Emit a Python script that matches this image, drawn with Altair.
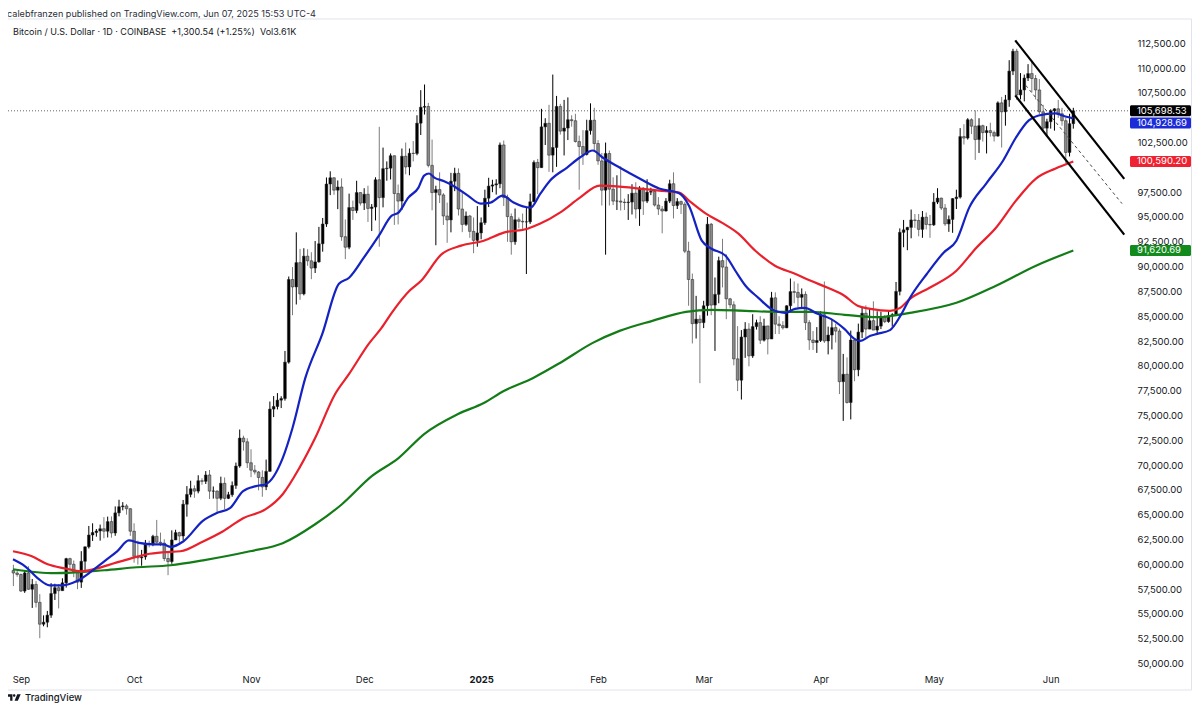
import altair as alt
import pandas as pd

FONT = "Inter"
INK = "#131722"

# ---------------- data (prices in USD thousands) ----------------
# day index counted from 2024-09-01 (= day 0); first candle is 2024-08-30
first_day = -2

open_k = [
    59.37, 59.12,
    58.97, 57.30, 59.13, 57.48, 57.97, 56.16, 53.96, 54.16, 54.87, 57.05, 57.64, 57.34, 58.13, 60.57, 60.00,
    59.19, 58.20, 60.30, 61.76, 62.95, 63.20, 63.35, 63.58, 63.33, 64.30, 63.15, 65.18, 65.80, 65.88, 65.60,
    63.33, 60.80, 60.65, 60.75, 62.08, 62.06, 62.82, 62.22, 62.13, 60.58, 60.27, 62.45, 63.19, 62.85, 66.05, 67.04,
    67.61, 67.37, 68.42, 68.36, 69.00, 67.37, 67.38, 66.65, 68.16, 66.64, 67.01, 67.94, 69.90, 72.72, 72.34,
    70.23, 69.48, 69.30, 68.75, 67.80, 69.36, 75.64, 75.90, 76.54, 76.70, 80.37, 88.70, 87.95, 90.40, 87.25,
    91.05, 90.58, 89.85, 90.47, 92.30, 94.29, 98.32, 98.95, 97.70, 98.02, 93.01, 91.95, 95.95, 95.65, 97.46,
    96.40, 97.29, 95.86, 96.00, 98.75, 96.95, 99.87, 99.92, 101.17, 97.36, 96.60, 101.12, 100.04, 101.42, 101.40, 104.45,
    106.06, 106.14, 100.20, 97.46, 97.76, 97.22, 95.10, 94.70, 98.60, 99.40, 95.80, 94.25, 95.10, 93.55, 92.64,
    93.39, 94.42, 96.89, 98.11, 98.23, 98.34, 102.26, 96.95, 95.04, 92.50, 94.72, 94.56, 94.50, 94.51, 96.53, 100.50,
    99.97, 104.08, 104.44, 101.23, 102.00, 106.14, 103.65, 103.96, 104.80, 104.70, 102.60, 102.10, 101.30, 103.70, 104.75,
    102.40, 100.65, 97.70, 101.40, 97.80, 96.60, 96.60, 96.50, 96.45, 96.50, 97.40, 95.80, 97.90, 96.60,
    97.50, 97.58, 96.20, 95.80, 95.60, 96.60, 98.35, 96.15, 96.55, 96.28, 91.55, 88.70, 84.25, 84.70,
    84.35, 86.05, 94.27, 86.12, 87.20, 90.60, 89.95, 86.75, 86.15, 80.70, 78.55, 82.90, 83.70, 81.00, 83.95, 84.35,
    82.58, 84.02, 82.70, 86.85, 84.20, 84.05, 83.83, 86.05, 87.48, 87.40, 86.90, 87.20, 84.35, 82.60, 82.35,
    82.55, 85.15, 82.50, 83.10, 83.85, 83.50, 78.40, 79.15, 76.30, 82.60, 79.60, 83.40, 85.30, 83.70, 84.55,
    83.60, 84.00, 84.90, 84.45, 85.05, 85.15, 87.50, 93.45, 93.70, 93.95, 94.70, 94.65, 93.75, 94.98, 94.25,
    94.20, 96.50, 96.90, 95.90, 94.30, 94.75, 96.85, 97.00, 103.10, 102.95, 104.80, 104.15, 102.80, 104.20, 103.50, 103.70,
    103.50, 103.15, 106.50, 105.60, 106.80, 109.70, 111.70, 107.30, 107.80, 109.00, 109.45, 108.95, 107.80, 105.60, 103.95,
    104.60, 105.70, 105.90, 105.40, 104.70, 101.50, 104.40,
]
high_k = [
    59.95, 59.45,
    59.07, 59.40, 59.80, 58.52, 58.30, 56.99, 54.85, 55.30, 58.10, 58.04, 57.99, 58.59, 60.65, 60.66, 60.38,
    59.21, 61.32, 61.78, 63.86, 64.13, 63.55, 64.00, 64.75, 64.80, 64.82, 65.83, 66.50, 66.26, 66.08, 65.65,
    64.13, 62.38, 61.45, 62.45, 62.38, 62.97, 64.47, 63.19, 62.52, 61.32, 63.42, 63.48, 63.28, 66.48, 67.88, 68.42,
    67.95, 68.97, 68.67, 69.39, 69.50, 67.84, 67.44, 68.83, 68.75, 67.30, 68.34, 70.25, 73.58, 72.96, 72.70,
    71.59, 70.00, 69.40, 69.47, 70.55, 76.40, 76.95, 77.25, 76.93, 81.50, 89.00, 89.95, 93.45, 91.78, 91.85,
    91.75, 91.45, 92.58, 94.00, 94.90, 98.98, 99.60, 98.99, 98.68, 98.89, 94.75, 97.35, 96.65, 98.65, 97.47,
    97.90, 98.15, 96.30, 99.00, 104.09, 101.99, 100.60, 101.40, 101.20, 98.27, 101.90, 102.50, 101.90, 102.65, 105.25, 107.78,
    108.35, 106.50, 102.80, 98.15, 99.50, 97.40, 96.45, 99.45, 99.96, 99.90, 97.55, 95.55, 95.20, 94.95, 96.10,
    94.95, 97.75, 98.95, 98.75, 98.80, 102.50, 102.70, 97.25, 95.35, 95.85, 94.95, 95.35, 95.90, 97.35, 100.70, 100.85,
    105.90, 104.95, 106.30, 109.35, 107.20, 106.40, 106.80, 107.05, 105.25, 105.40, 103.20, 103.75, 104.80, 106.45, 106.00,
    102.75, 101.45, 102.50, 101.70, 99.00, 99.20, 100.10, 96.85, 97.30, 98.30, 98.50, 98.10, 98.00, 98.80,
    97.95, 97.70, 97.00, 96.10, 96.90, 98.75, 99.50, 96.90, 96.65, 96.50, 92.50, 89.30, 87.05, 85.10,
    86.55, 95.00, 94.40, 88.90, 91.00, 92.80, 91.25, 86.85, 86.50, 84.00, 83.60, 84.40, 84.30, 85.20, 84.65, 85.00,
    84.75, 84.02, 87.45, 87.40, 85.00, 84.50, 86.10, 88.80, 88.50, 88.30, 87.80, 87.50, 84.60, 83.50, 83.90,
    85.50, 88.50, 83.95, 84.70, 84.25, 83.75, 81.20, 80.85, 83.55, 82.70, 84.25, 85.90, 86.10, 85.80, 86.50,
    85.50, 85.45, 85.10, 85.60, 85.30, 88.45, 93.85, 94.70, 94.00, 95.75, 95.30, 95.30, 95.60, 95.45, 95.20,
    97.40, 97.90, 96.95, 96.30, 95.15, 96.90, 97.75, 103.95, 104.35, 104.95, 104.95, 105.75, 104.95, 104.30, 104.15, 104.50,
    103.70, 106.65, 107.10, 107.30, 110.80, 111.95, 111.95, 109.50, 109.35, 110.40, 110.75, 109.30, 108.90, 106.30, 104.90,
    105.85, 105.95, 106.80, 106.00, 105.00, 105.40, 106.00,
]
low_k = [
    57.80, 58.75,
    57.20, 57.12, 57.42, 55.60, 55.65, 52.55, 53.75, 53.65, 54.60, 56.40, 55.55, 57.33, 57.65, 59.45, 58.70,
    57.49, 57.62, 59.19, 61.59, 62.35, 62.78, 62.38, 62.62, 62.70, 62.68, 62.87, 64.83, 65.43, 65.00, 62.86,
    60.16, 59.97, 59.85, 60.46, 61.70, 61.82, 62.12, 61.83, 60.32, 58.90, 60.05, 62.45, 62.04, 62.45, 64.80, 66.75,
    66.70, 67.15, 68.02, 68.09, 66.58, 66.62, 65.27, 66.46, 65.54, 66.57, 66.80, 67.60, 69.73, 71.45, 69.70,
    68.78, 69.05, 67.45, 66.80, 67.47, 69.35, 74.83, 75.60, 75.74, 76.49, 80.22, 85.10, 86.18, 86.65, 87.10,
    90.08, 88.73, 89.35, 90.40, 91.50, 94.00, 97.20, 97.23, 95.79, 92.60, 90.75, 91.75, 94.70, 95.38, 96.15,
    95.70, 94.50, 93.58, 94.65, 92.00, 95.97, 98.65, 98.78, 94.20, 94.25, 95.70, 99.30, 99.20, 100.60, 101.22, 103.26,
    105.32, 100.00, 95.67, 92.15, 96.40, 94.20, 92.40, 93.45, 97.60, 95.15, 93.47, 94.10, 92.90, 91.35, 92.00,
    92.75, 94.20, 96.00, 97.50, 97.25, 97.90, 96.10, 92.50, 91.20, 92.20, 93.85, 93.70, 89.25, 94.30, 96.50, 97.30,
    99.95, 102.25, 99.55, 99.50, 100.05, 103.30, 101.20, 102.75, 104.10, 102.50, 97.75, 100.25, 101.20, 103.30, 101.55,
    100.25, 96.15, 91.20, 96.15, 96.20, 95.70, 95.65, 95.70, 94.70, 95.25, 94.85, 94.10, 95.20, 96.40,
    97.20, 96.05, 95.20, 93.35, 95.55, 96.40, 94.85, 95.80, 95.30, 91.35, 86.05, 82.25, 82.75, 78.25,
    83.80, 85.05, 85.10, 81.50, 86.30, 87.90, 84.70, 85.80, 80.05, 77.45, 76.60, 80.80, 79.95, 80.80, 83.65, 82.20,
    82.45, 81.15, 82.70, 83.20, 83.20, 83.65, 83.80, 85.55, 86.30, 85.85, 85.85, 83.60, 81.60, 81.60, 81.30,
    82.40, 82.30, 81.15, 81.65, 82.35, 77.15, 74.45, 76.20, 74.60, 78.45, 78.95, 82.80, 82.85, 83.70, 83.60,
    83.10, 83.70, 84.30, 84.35, 83.95, 85.10, 87.10, 91.95, 91.65, 92.85, 93.90, 93.05, 92.90, 93.75, 92.90,
    94.10, 96.30, 95.70, 94.10, 93.50, 93.40, 95.80, 96.85, 102.30, 102.80, 103.35, 100.75, 101.45, 102.60, 101.40, 103.10,
    102.60, 103.10, 102.00, 104.20, 106.10, 109.30, 106.80, 106.85, 106.65, 108.70, 107.55, 106.85, 105.35, 103.70, 103.10,
    103.90, 103.70, 105.00, 104.20, 100.40, 101.10, 103.90,
]
close_k = [
    59.12, 58.97,
    57.30, 59.13, 57.48, 57.97, 56.16, 53.96, 54.16, 54.87, 57.05, 57.64, 57.34, 58.13, 60.57, 60.00, 59.19,
    58.20, 60.30, 61.76, 62.95, 63.20, 63.35, 63.58, 63.33, 64.30, 63.15, 65.18, 65.80, 65.88, 65.60, 63.33,
    60.80, 60.65, 60.75, 62.08, 62.06, 62.82, 62.22, 62.13, 60.58, 60.27, 62.45, 63.19, 62.85, 66.05, 67.04, 67.61,
    67.37, 68.42, 68.36, 69.00, 67.37, 67.38, 66.65, 68.16, 66.64, 67.01, 67.94, 69.90, 72.72, 72.34, 70.23,
    69.48, 69.30, 68.75, 67.80, 69.36, 75.64, 75.90, 76.54, 76.70, 80.37, 88.70, 87.95, 90.40, 87.25, 91.05,
    90.58, 89.85, 90.47, 92.30, 94.29, 98.32, 98.95, 97.70, 98.02, 93.01, 91.95, 95.95, 95.65, 97.46, 96.40,
    97.29, 95.86, 96.00, 98.75, 96.95, 99.87, 99.92, 101.17, 97.36, 96.60, 101.12, 100.04, 101.42, 101.40, 104.45, 106.06,
    106.14, 100.20, 97.46, 97.76, 97.22, 95.10, 94.70, 98.60, 99.40, 95.80, 94.25, 95.10, 93.55, 92.64, 93.39,
    94.42, 96.89, 98.11, 98.23, 98.34, 102.26, 96.95, 95.04, 92.50, 94.72, 94.56, 94.50, 94.51, 96.53, 100.50, 99.97,
    104.08, 104.44, 101.23, 102.00, 106.14, 103.65, 103.96, 104.80, 104.70, 102.60, 102.10, 101.30, 103.70, 104.75, 102.40,
    100.65, 97.70, 101.40, 97.80, 96.60, 96.60, 96.50, 96.45, 96.50, 97.40, 95.80, 97.90, 96.60, 97.50,
    97.58, 96.20, 95.80, 95.60, 96.60, 98.35, 96.15, 96.55, 96.28, 91.55, 88.70, 84.25, 84.70, 84.35,
    86.05, 94.27, 86.12, 87.20, 90.60, 89.95, 86.75, 86.15, 80.70, 78.55, 82.90, 83.70, 81.00, 83.95, 84.35, 82.58,
    84.02, 82.70, 86.85, 84.20, 84.05, 83.83, 86.05, 87.48, 87.40, 86.90, 87.20, 84.35, 82.60, 82.35, 82.55,
    85.15, 82.50, 83.10, 83.85, 83.50, 78.40, 79.15, 76.30, 82.60, 79.60, 83.40, 85.30, 83.70, 84.55, 83.60,
    84.00, 84.90, 84.45, 85.05, 85.15, 87.50, 93.45, 93.70, 93.95, 94.70, 94.65, 93.75, 94.98, 94.25, 94.20,
    96.50, 96.90, 95.90, 94.30, 94.75, 96.85, 97.00, 103.10, 102.95, 104.80, 104.15, 102.80, 104.20, 103.50, 103.70, 103.50,
    103.15, 106.50, 105.60, 106.80, 109.70, 111.70, 107.30, 107.80, 109.00, 109.45, 108.95, 107.80, 105.60, 103.95, 104.60,
    105.70, 105.90, 105.40, 104.70, 101.50, 104.40, 105.70,
]

# moving averages (day index, USD thousands)
blue_day = [-2.1, 1.1, 4.5, 7.6, 11.0, 14.7, 18.7, 22.1, 25.5, 28.6, 31.3, 35.2, 37.8, 39.7, 43.1, 48.3, 51.8,
            55.4, 58.9, 62.3, 64.9, 69.4, 72.0, 75.4, 79.9, 84.3, 87.0, 90.9, 94.9, 98.3, 100.1, 102.7, 105.4,
            106.9, 108.2, 109.6, 112.2, 114.8, 118.5, 121.9, 124.5, 127.7, 130.6, 135.1, 137.7, 140.3, 144.8,
            148.2, 151.6, 154.2, 158.7, 164.0, 169.2, 174.5, 177.1, 180.5, 183.1, 186.8, 189.4, 192.1, 195.5,
            198.9, 202.6, 205.2, 207.8, 211.2, 214.7, 218.3, 221.0, 222.5, 225.2, 227.0, 230.4, 233.1, 235.7,
            240.2, 244.6, 248.0, 251.4, 255.9, 260.4, 263.8, 267.2, 269.8, 274.3, 276.9, 279.0]
blue_k = [60.50, 59.80, 58.58, 57.88, 57.88, 58.28, 59.29, 60.30, 61.30, 62.40, 62.15, 62.00, 62.00, 61.75, 62.32,
          64.40, 65.15, 65.65, 67.37, 67.87, 68.07, 70.70, 73.73, 78.78, 83.22, 88.27, 88.88, 90.90, 93.11, 95.13,
          95.44, 96.95, 97.96, 99.17, 99.38, 98.97, 98.60, 98.10, 97.15, 96.35, 96.45, 97.15, 96.45, 95.94, 97.35,
          98.67, 99.98, 100.99, 101.70, 100.99, 99.98, 98.87, 97.86, 97.40, 96.14, 92.61, 91.80, 91.10, 89.58,
          88.07, 86.85, 85.74, 85.34, 85.74, 85.84, 85.24, 84.73, 83.72, 82.71, 82.51, 83.02, 83.22, 83.60, 85.00,
          86.85, 89.28, 91.40, 92.61, 95.94, 98.37, 100.69, 103.01, 104.73, 105.23, 105.43, 105.13, 104.93]
red_day = [-2.1, 2.9, 7.1, 11.6, 16.0, 20.2, 24.7, 29.2, 33.4, 37.8, 42.3, 48.3, 53.6, 58.9, 64.9, 69.4, 73.8,
           78.0, 83.3, 87.0, 92.2, 95.6, 98.3, 103.0, 106.1, 111.4, 116.7, 122.7, 128.0, 134.3, 137.7, 142.9,
           148.2, 153.4, 158.7, 164.0, 169.2, 174.5, 177.1, 181.6, 185.8, 190.2, 194.7, 199.9, 205.2, 209.4,
           213.9, 218.3, 221.8, 225.2, 230.4, 233.1, 235.7, 240.9, 248.0, 253.3, 258.5, 263.8, 269.1, 274.3, 279.0]
red_k = [61.31, 60.80, 60.00, 59.59, 59.29, 59.59, 60.10, 60.60, 61.01, 61.21, 61.31, 62.30, 63.33, 64.64, 65.55,
         67.06, 69.69, 72.72, 77.16, 79.18, 82.21, 83.82, 85.34, 87.56, 88.57, 91.20, 92.11, 92.61, 93.42, 93.82,
         94.33, 95.44, 96.95, 98.16, 98.06, 97.86, 97.66, 97.46, 96.65, 95.34, 94.43, 93.32, 91.60, 90.09, 89.28,
         88.57, 87.86, 87.06, 86.05, 85.74, 85.54, 85.84, 86.75, 87.86, 89.58, 91.90, 93.92, 96.65, 98.87, 99.88,
         100.59]
green_day = [-2.1, 8.9, 22.1, 30.7, 39.7, 48.3, 60.7, 69.4, 78.0, 85.1, 93.0, 100.1, 106.9, 115.9, 122.7, 128.0,
             135.8, 142.9, 151.6, 158.7, 167.4, 176.3, 183.1, 192.1, 200.7, 209.4, 218.3, 227.0, 235.7, 248.0,
             258.5, 269.1, 279.0]
green_k = [59.50, 59.10, 59.40, 59.70, 59.90, 60.40, 61.31, 62.12, 64.03, 66.05, 68.88, 70.70, 73.12, 75.14, 76.25,
           77.46, 78.78, 80.29, 82.31, 83.52, 84.53, 85.44, 85.64, 85.54, 85.44, 85.44, 85.14, 84.90, 85.34, 86.35,
           88.07, 90.09, 91.62]

# drawn descending channel (day index, USD thousands)
chan_day = [263.6, 292.5]
chan_upper_k = [112.80, 98.84]
chan_lower_k = [107.25, 93.22]
mid_day = [266.4, 291.9]
mid_k = [108.26, 96.35]

last_price = 105698.53
badge_values = [105698.53, 104928.69, 100590.20, 91620.69]
badge_labels = ["105,698.53", "104,928.69", "100,590.20", "91,620.69"]

month_days = [0, 30, 61, 91, 122, 153, 181, 212, 242, 273]
month_labels = ["Sep", "Oct", "Nov", "Dec", "2025", "Feb", "Mar", "Apr", "May", "Jun"]
# price scale labels that are visible (100,000 and 105,000 sit under the value badges)
price_ticks = [50000, 52500, 55000, 57500, 60000, 62500, 65000, 67500, 70000, 72500, 75000, 77500, 80000,
               82500, 85000, 87500, 90000, 92500, 95000, 97500, 102500, 107500, 110000, 112500]

header_1 = "calebfranzen published on TradingView.com, Jun 07, 2025 15:53 UTC-4"
header_2 = "Bitcoin / U.S. Dollar \u00b7 1D \u00b7 COINBASE\u00a0\u00a0+1,300.54 (+1.25%)\u00a0\u00a0Vol3.61K"
brand = "TradingView"

assert len(open_k) == len(high_k) == len(low_k) == len(close_k)
assert len(blue_day) == len(blue_k) and len(red_day) == len(red_k) and len(green_day) == len(green_k)

# ---------------- chart ----------------
W, H = 1120, 646
x_scale = alt.Scale(domain=[-2.102, 292.17], nice=False, zero=False)
y_scale = alt.Scale(domain=[49546.5, 114648.0], nice=False, zero=False)

label_expr = "".join(f"datum.value == {d} ? '{l}' : " for d, l in zip(month_days, month_labels)) + "''"
x_axis = alt.Axis(values=month_days, labelExpr=label_expr, title=None, ticks=False, domain=False, grid=False,
                  labelPadding=6, labelFont=FONT, labelFontSize=9.5, labelColor=INK, labelFlush=False,
                  labelOverlap=False,
                  labelFontWeight={"condition": {"test": "datum.value == 122", "value": "bold"}, "value": "normal"})
y_axis = alt.Axis(orient="right", values=price_ticks, format=",.2f", title=None, ticks=False, domain=False,
                  grid=False, labelPadding=9, labelAlign="left", labelBaseline="middle", labelOverlap=False,
                  labelFont=FONT, labelFontSize=9.5, labelColor=INK)

X = lambda f="day": alt.X(f"{f}:Q", scale=x_scale, axis=x_axis)
Y = lambda f: alt.Y(f"{f}:Q", scale=y_scale, axis=y_axis)

days = list(range(first_day, first_day + len(close_k)))
candles = pd.DataFrame({
    "day": days,
    "open": [v * 1000 for v in open_k],
    "high": [v * 1000 for v in high_k],
    "low": [v * 1000 for v in low_k],
    "close": [v * 1000 for v in close_k],
})
up = alt.datum.close >= alt.datum.open

wicks = alt.Chart(candles).mark_rule(strokeWidth=1).encode(
    x=X(), y=Y("low"), y2="high:Q",
    color=alt.condition(up, alt.value("#000000"), alt.value("#7c7c7c")))
bodies = alt.Chart(candles).mark_bar(size=2.7, stroke="#222222", strokeWidth=0.5).encode(
    x=X(), y=Y("open"), y2="close:Q",
    color=alt.condition(up, alt.value("#000000"), alt.value("#8a8a8a")))


def ma_layer(dd, vv, color):
    df = pd.DataFrame({"day": dd, "v": [v * 1000 for v in vv]})
    return alt.Chart(df).mark_line(color=color, strokeWidth=2.2, interpolate="monotone").encode(x=X(), y=Y("v"))


green_line = ma_layer(green_day, green_k, "#137c17")
red_line = ma_layer(red_day, red_k, "#e8212c")
blue_line = ma_layer(blue_day, blue_k, "#1422c2")

chan_df = pd.DataFrame({
    "day": chan_day + chan_day,
    "v": [v * 1000 for v in chan_upper_k + chan_lower_k],
    "line": ["upper"] * 2 + ["lower"] * 2,
})
channel = alt.Chart(chan_df).mark_line(color="#000000", strokeWidth=2.2).encode(
    x=X(), y=Y("v"), detail="line:N")
mid_df = pd.DataFrame({"day": mid_day, "v": [v * 1000 for v in mid_k]})
mid = alt.Chart(mid_df).mark_line(color="#444444", strokeWidth=1, strokeDash=[3, 3]).encode(x=X(), y=Y("v"))

price_line = alt.Chart(pd.DataFrame({"v": [last_price]})).mark_rule(
    color="#666666", strokeWidth=1, strokeDash=[1, 2]).encode(y=Y("v"))

badge_colors = ["#000000", "#1b2bd8", "#ee2230", "#138a1c"]
badge_shift = [0, 4.5, 0, 0]
badges = []
for val, lab, col, sh in zip(badge_values, badge_labels, badge_colors, badge_shift):
    bdf = pd.DataFrame({"v": [val], "t": [lab]})
    badges.append(alt.Chart(bdf).mark_rect(color=col, cornerRadius=1.5, yOffset=-5.5 + sh,
                                           y2Offset=5.5 + sh).encode(
        x=alt.value(1122), x2=alt.value(1183), y=Y("v"), y2="v:Q"))
    badges.append(alt.Chart(bdf).mark_text(color="#ffffff", align="left", baseline="middle", dy=sh,
                                           font=FONT, fontSize=9.5).encode(
        x=alt.value(1129), y=Y("v"), text="t:N"))

head1 = alt.Chart(pd.DataFrame({"t": [header_1]})).mark_text(
    align="left", baseline="middle", font=FONT, fontSize=9.1, color="#2a2e39").encode(
    x=alt.value(-1), y=alt.value(-8.5), text="t:N")
head2 = alt.Chart(pd.DataFrame({"t": [header_2]})).mark_text(
    align="left", baseline="middle", font=FONT, fontSize=9.0, color=INK).encode(
    x=alt.value(5), y=alt.value(10), text="t:N")

border_top = alt.Chart(pd.DataFrame({"a": [0]})).mark_rule(color="#e0e3eb", strokeWidth=1).encode(
    x=alt.value(0), x2=alt.value(1183.5), y=alt.value(-3))
border_bottom = alt.Chart(pd.DataFrame({"a": [0]})).mark_rule(color="#e0e3eb", strokeWidth=1).encode(
    x=alt.value(0), x2=alt.value(1183.5), y=alt.value(668))
border_right = alt.Chart(pd.DataFrame({"a": [0]})).mark_rule(color="#e0e3eb", strokeWidth=1).encode(
    x=alt.value(1183.5), y=alt.value(-3), y2=alt.value(668))

logo_path = ("M-1,-0.479 L-0.229,-0.479 L-0.229,0.479 L-0.571,0.479 L-0.571,-0.121 L-1,-0.121 Z "
             "M-0.157,-0.293 A0.186,0.186 0 1,0 0.215,-0.293 A0.186,0.186 0 1,0 -0.157,-0.293 Z "
             "M0.486,-0.479 L1,-0.479 L0.571,0.479 L0.086,0.479 Z")
logo = alt.Chart(pd.DataFrame({"a": [0]})).mark_point(
    shape=logo_path, filled=True, color=INK, size=180, opacity=1, strokeWidth=0).encode(
    x=alt.value(6), y=alt.value(675.5))
brand_text = alt.Chart(pd.DataFrame({"t": [brand]})).mark_text(
    align="left", baseline="middle", font=FONT, fontSize=9.5, fontWeight=500, color=INK).encode(
    x=alt.value(17), y=alt.value(675.5), text="t:N")

chart = alt.layer(
    price_line, wicks, bodies, green_line, red_line, blue_line, channel, mid,
    *badges, head1, head2, border_top, border_bottom, border_right, logo, brand_text,
).properties(
    width=W, height=H,
    padding={"left": 0, "top": 14, "right": 64, "bottom": 35},
    autosize=alt.AutoSizeParams(type="none"),
).configure_view(stroke=None)

chart.save("out.html", embed_options={"renderer": "svg", "actions": False})
